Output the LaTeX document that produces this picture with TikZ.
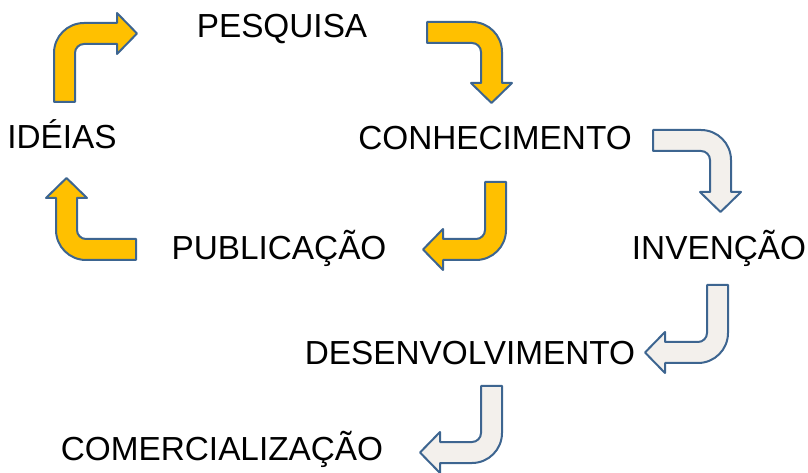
\documentclass[tikz,border=0pt]{standalone}
\usepackage{fontspec}
\setmainfont{Liberation Sans}
\usepackage{xcolor}
\definecolor{arrowgold}{HTML}{FFC000}
\definecolor{arrowpale}{HTML}{F3F0EC}
\definecolor{arrowedge}{HTML}{3D6590}

\tikzset{
  word/.style={anchor=base, inner sep=0pt, font=\fontsize{25}{30}\selectfont},
  goldarrow/.style={draw=arrowedge, line width=1.5pt, fill=arrowgold, line join=round},
  palearrow/.style={draw=arrowedge, line width=1.5pt, fill=arrowpale, line join=round},
  pics/bentarrow/.style n args={3}{code={
    \draw[#3] (0,0) -- (0,#1-30) arc[start angle=180, end angle=90, radius=30] -- (#2,#1) -- (#2,#1+10) -- (#2+20,#1-10.5) -- (#2,#1-31) -- (#2,#1-21) -- (30,#1-21) arc[start angle=90, end angle=180, radius=9] -- (21,0) -- cycle;
  }},
}

\begin{document}
\begin{tikzpicture}[x=0.75pt, y=0.75pt]
\useasboundingbox (0,0) rectangle (808,472);

%word positions
\node[word] (pesquisa) at (282,434) {PESQUISA};
\node[word] (ideias) at (62,323) {IDÉIAS};
\node[word] (conhecimento) at (495,322) {CONHECIMENTO};
\node[word] (publicacao) at (279,212) {PUBLICAÇÃO};
\node[word] (invencao) at (719,212) {INVENÇÃO};
\node[word] (desenvolvimento) at (470,107) {DESENVOLVIMENTO};
\node[word] (comercializacao) at (222,12) {COMERCIALIZAÇÃO};

%arrow start coords
\coordinate (ideiaspesq) at (54,370); \coordinate (pesqconh) at (427,450);
\coordinate (conhpubl) at (506,290); \coordinate (publideias) at (136,212);
\coordinate (conhinv) at (653,342); \coordinate (invdes) at (728,187); \coordinate (descom) at (502,86);

%gold cycle
\pic at (ideiaspesq) {bentarrow={79}{63}{goldarrow}};
\pic[rotate=-90] at (pesqconh) {bentarrow={75}{61}{goldarrow}};
\pic[rotate=180] at (conhpubl) {bentarrow={78}{63}{goldarrow}};
\pic[rotate=90] at (publideias) {bentarrow={80}{62}{goldarrow}};

%pale chain
\pic[rotate=-90] at (conhinv) {bentarrow={78}{62}{palearrow}};
\pic[rotate=180] at (invdes) {bentarrow={78}{63}{palearrow}};
\pic[rotate=180] at (descom) {bentarrow={77}{62}{palearrow}};

\end{tikzpicture}
\end{document}
